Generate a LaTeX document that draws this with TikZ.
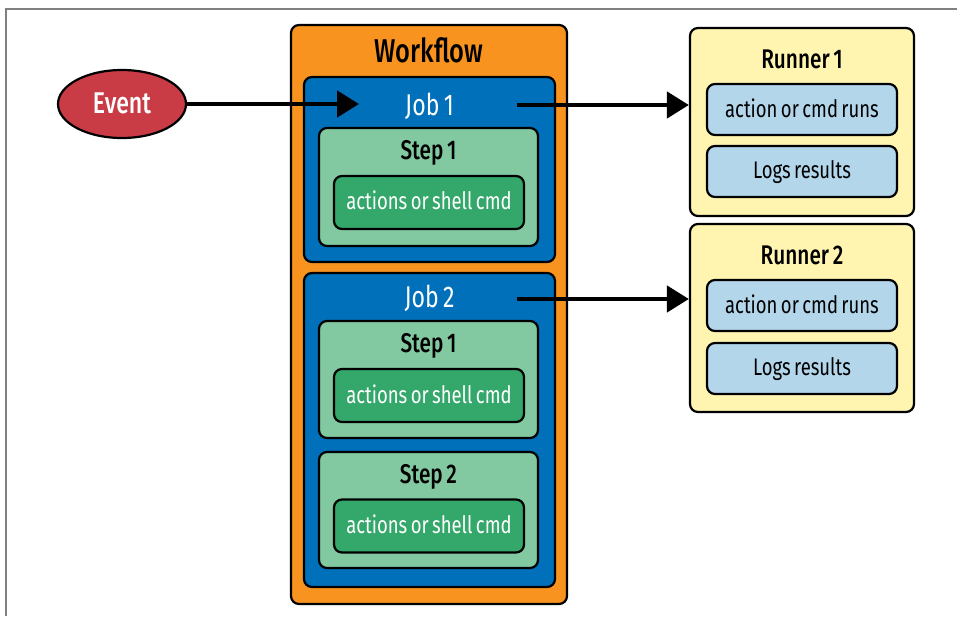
\documentclass[tikz,border=0pt]{standalone}
\usepackage{fontspec}
\setmainfont{Fira Sans}[FakeStretch=0.77,WordSpace=0.7,BoldFont={Fira Sans Medium}]
\usepackage{xcolor}
\usetikzlibrary{arrows.meta,positioning,shapes}

\definecolor{wforange}{HTML}{F7931E}
\definecolor{jobblue}{HTML}{0070BA}
\definecolor{steplight}{HTML}{82C9A1}
\definecolor{cmdgreen}{HTML}{34A86B}
\definecolor{runyellow}{HTML}{FFF5B1}
\definecolor{runblue}{HTML}{B3D6EB}
\definecolor{evtred}{HTML}{C93C45}

\begin{document}
\begin{tikzpicture}[x=1pt,y=-1pt]
  \tikzset{box/.style = {draw=black,line width=2.2pt,rounded corners=8pt,inner sep=0pt}}
  \tikzset{flow/.style = {box,fill=wforange,minimum width=276pt}}
  \tikzset{job/.style = {box,fill=jobblue,minimum width=251pt}}
  \tikzset{stepbox/.style = {box,fill=steplight,minimum width=219pt}}
  \tikzset{cmd/.style = {box,fill=cmdgreen,minimum width=190pt,minimum height=53pt}}
  \tikzset{runner/.style = {box,fill=runyellow,minimum width=224pt,minimum height=188pt}}
  \tikzset{task/.style = {box,fill=runblue,minimum width=190pt,minimum height=51pt}}
  \tikzset{tasktext/.style = {anchor=base,inner sep=0pt,font=\fontsize{24}{24}\selectfont}}
  \tikzset{title/.style = {anchor=base,inner sep=0pt,font=\fontsize{27}{27}\selectfont\bfseries}}
  \tikzset{edge/.style = {-{Triangle[length=22pt,width=26pt]},line width=4.5pt}}

  \useasboundingbox (0,0) rectangle (957,616);
  \draw[gray,line width=1.5pt] (6,616) -- (6,9) -- (957,9);

  % workflow and jobs
  \node[flow,minimum height=579pt] (wf) at (429,314.5) {};
  \node[title,font=\fontsize{33}{33}\selectfont\bfseries] (wf-title) at (429,62) {Workflow};

  \node[job,minimum height=185pt] (job1) at (429.5,169.5) {};
  \node[title,text=white,font=\fontsize{30}{30}\selectfont] (job1-title) at (429.5,115) {Job 1};
  \node[stepbox,minimum height=118pt] (step11) at (428.5,187) {};
  \node[title] (step11-title) at (428.5,159) {Step 1};
  \node[cmd] (cmd11) at (429,202.5) {};
  \node[tasktext,text=white] at (429,209) {actions or shell cmd};

  \node[job,minimum height=314pt] (job2) at (429.5,430) {};
  \node[title,text=white,font=\fontsize{30}{30}\selectfont] (job2-title) at (429.5,307) {Job 2};
  \node[stepbox,minimum height=117pt] (step21) at (428.5,379.5) {};
  \node[title] (step21-title) at (428.5,352) {Step 1};
  \node[cmd] (cmd21) at (429,395.5) {};
  \node[tasktext,text=white] at (429,403) {actions or shell cmd};
  \node[stepbox,minimum height=116pt] (step22) at (428.5,510) {};
  \node[title] (step22-title) at (428.5,483) {Step 2};
  \node[cmd] (cmd22) at (429,526) {};
  \node[tasktext,text=white] at (429,533) {actions or shell cmd};

  % runners
  \node[runner] (runner1) at (802,122) {};
  \node[title] (runner1-title) at (802,68) {Runner 1};
  \node[task] (run1) at (802,109.5) {};
  \node[tasktext] at (802,117) {action or cmd runs};
  \node[task] (log1) at (802,171.5) {};
  \node[tasktext] at (802,178) {Logs results};

  \node[runner] (runner2) at (802,318) {};
  \node[title] (runner2-title) at (802,264) {Runner 2};
  \node[task] (run2) at (802,305.5) {};
  \node[tasktext] at (802,313) {action or cmd runs};
  \node[task] (log2) at (802,368.5) {};
  \node[tasktext] at (802,375) {Logs results};

  % event
  \node[ellipse,draw=black,line width=2.2pt,fill=evtred,minimum width=128pt,minimum height=68pt,
    inner sep=0pt] (event) at (122,104) {};
  \node[title,text=white,font=\fontsize{30}{30}\selectfont\bfseries] (event-title) at (122,113) {Event};

  %edges
  \coordinate (job1-in) at (359,104);
  \coordinate (job1-out) at (517,105);
  \coordinate (job2-out) at (517,299);
  \draw[edge] (event) -- (job1-in);
  \draw[edge] (job1-out) -- (job1-out -| runner1.west);
  \draw[edge] (job2-out) -- (job2-out -| runner2.west);
\end{tikzpicture}
\end{document}
